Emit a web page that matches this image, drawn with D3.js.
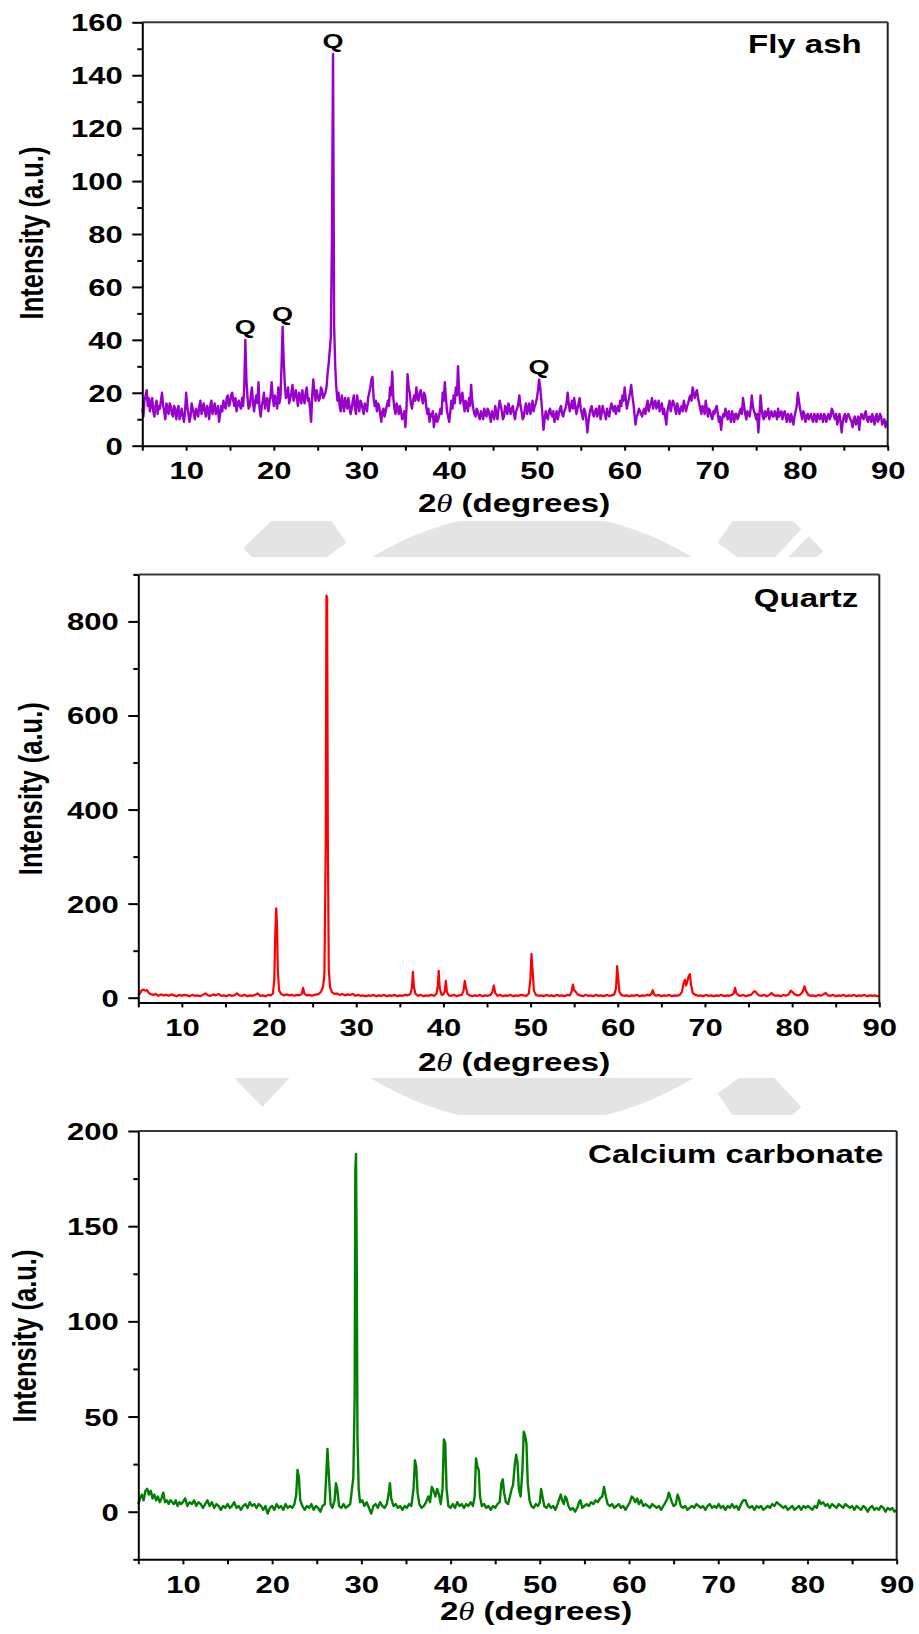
<!DOCTYPE html>
<html>
<head>
<meta charset="utf-8">
<script src="https://cdn.jsdelivr.net/npm/d3@7"></script>
<style>
  body { margin: 0; background: #fff; }
  svg text { font-family: 'Liberation Sans', Arial, sans-serif; font-weight: bold; fill: #000; }
</style>
</head>
<body>
<script>
// ---- data ----
// fly ash: intensities on a 0.125 degree step, starting at 5 degrees (one row per degree)
const flyStart = 5, flyStep = 0.125;
const flyIntensity = [
  14,11,17,19,21,15,18,13,  16,18,13,11,15,17,12,15,  14,17,20,15,13,10,16,14,  12,16,15,12,11,15,14,10,
  13,15,10,12,14,11,9,13,   20,15,12,9,11,16,14,12,   10,14,13,11,15,17,12,14,  16,13,11,15,14,10,15,17,
  12,14,16,12,13,15,9,12,   15,13,17,15,14,18,19,15,  16,19,20,17,15,18,13,16,  17,15,14,18,15,22,40,25,
  18,14,15,19,22,16,13,17,  19,16,24,14,11,15,17,20,  14,17,18,13,16,19,24,18,  15,19,17,14,22,16,18,30,
  45,32,23,18,19,22,16,18,  20,23,17,19,21,18,15,20,  19,16,21,18,16,20,22,17,  18,14,9,19,25,20,17,21,
  19,17,18,22,21,18,19,20,  22,27,31,36,41,78,148,45, 30,22,17,20,15,13,19,16,  13,18,16,14,18,15,12,14,
  17,19,14,12,19,16,13,17,  16,14,12,16,15,13,18,20,  22,25,26,18,15,17,13,16,  15,12,9,13,14,11,13,15,
  17,15,22,19,28,18,14,12,  16,14,12,15,13,10,11,13,  7,14,27,22,20,16,14,17,   19,17,22,18,17,20,21,18,
  16,20,19,15,12,14,9,12,   11,13,7,10,12,9,10,12,    14,12,20,17,24,18,13,11,  9,13,17,14,19,16,22,19,
  30,21,16,18,20,16,13,17,  15,13,18,15,23,17,14,12,  11,14,13,11,10,13,12,10,  14,12,11,14,13,11,9,13,
  12,10,15,12,10,14,17,15,  13,10,11,15,14,12,16,14,  12,14,15,12,10,13,14,16,  19,15,13,10,11,14,16,12,
  14,16,12,14,17,13,15,16,  18,21,25,22,17,12,6,10,   13,11,10,13,14,12,11,13,  9,11,13,10,12,14,15,12,
  11,13,14,16,20,16,13,15,  17,14,18,15,12,14,16,18,  14,12,10,14,13,10,5,9,    12,14,15,12,11,13,14,11,
  13,15,10,12,15,13,12,10,  14,12,11,14,16,14,13,15,  12,14,15,13,17,15,19,17,  22,18,14,16,18,20,23,19,
  16,12,8,11,12,14,13,12,   11,13,14,12,15,17,13,15,  16,18,14,16,17,14,15,17,  13,15,16,12,14,11,8,13,
  15,17,13,15,17,16,14,12,  16,14,12,14,15,13,17,15,  13,15,16,18,19,17,22,20,  18,20,21,18,16,14,12,15,
  14,12,17,14,11,14,13,11,  10,13,12,14,15,12,9,11,   6,10,12,11,14,12,10,13,   11,9,13,11,9,12,12,10,
  11,13,14,12,18,15,12,10,  13,12,11,14,19,15,13,12,  10,12,5,11,19,14,11,10,   13,11,12,14,10,12,13,11,
  11,13,12,10,14,11,12,13,  10,12,13,11,9,12,11,9,    12,10,8,11,13,15,20,17,   14,12,10,13,12,9,11,12,
  10,11,12,10,9,12,11,9,    12,11,10,12,11,9,12,11,   9,11,12,10,11,14,13,11,   10,12,8,10,12,9,5,9,
  11,12,9,11,12,11,10,9,    7,10,11,8,9,11,6,10,      12,11,10,12,13,10,9,11,   11,9,12,10,8,11,12,9,
  10,12,11,8,9,10,7,9,
  9
];
const flyPeaks = [[16.75, 40], [21, 45], [26.75, 148], [50.25, 25]];

// quartz: [2theta, intensity]
const quartzData = [
  [5.0,7],[5.2,9],[5.4,16],[5.6,17],[5.8,15],[6.0,16],[6.2,10],[6.4,8],[6.7,6],[7.0,8],[7.3,4],[7.6,7],[7.9,5],
  [8.2,6],[8.5,4],[8.8,7],[9.1,5],[9.4,3],[9.7,6],[10.0,4],[10.3,6],[10.6,5],[10.9,3],[11.2,6],[11.5,4],[11.8,5],
  [12.1,3],[12.4,6],[12.7,9],[13.0,5],[13.3,4],[13.6,7],[13.9,5],[14.2,8],[14.5,4],[14.8,5],[15.1,3],[15.4,6],
  [15.7,4],[16.0,5],[16.3,9],[16.6,5],[16.9,4],[17.2,6],[17.5,3],[17.8,5],[18.1,4],[18.4,6],[18.7,9],[19.0,4],
  [19.3,5],[19.6,3],[19.9,6],[20.2,5],[20.45,9],[20.6,40],[20.72,140],[20.82,190],[20.92,150],[21.0,60],[21.15,15],
  [21.4,8],[21.7,5],[22.0,7],[22.3,5],[22.6,6],[22.9,4],[23.2,6],[23.5,5],[23.75,8],[23.9,21],[24.05,9],[24.3,5],
  [24.6,6],[24.9,4],[25.2,6],[25.5,7],[25.8,9],[26.0,14],[26.2,24],[26.35,50],[26.5,330],[26.58,855],[26.66,850],
  [26.74,340],[26.85,60],[27.0,22],[27.2,12],[27.5,8],[27.8,9],[28.1,6],[28.4,8],[28.7,5],[29.0,7],[29.3,6],
  [29.6,8],[29.9,4],[30.2,6],[30.5,4],[30.8,5],[31.1,3],[31.4,5],[31.7,4],[32.0,6],[32.3,3],[32.6,5],[32.9,4],
  [33.2,6],[33.5,3],[33.8,5],[34.1,4],[34.4,6],[34.7,3],[35.0,5],[35.3,4],[35.6,6],[35.9,5],[36.2,8],[36.38,20],
  [36.5,55],[36.62,22],[36.8,8],[37.1,4],[37.4,6],[37.7,3],[38.0,5],[38.3,4],[38.6,6],[38.9,4],[39.2,8],[39.35,25],
  [39.46,57],[39.58,20],[39.8,6],[40.0,7],[40.15,14],[40.28,36],[40.4,12],[40.6,5],[40.9,4],[41.2,6],[41.5,3],
  [41.8,5],[42.1,6],[42.3,14],[42.45,36],[42.58,22],[42.75,8],[43.0,5],[43.3,3],[43.6,5],[43.9,4],[44.2,6],
  [44.5,3],[44.8,5],[45.1,4],[45.4,6],[45.62,12],[45.78,26],[45.95,10],[46.2,4],[46.5,6],[46.8,3],[47.1,5],
  [47.4,4],[47.7,6],[48.0,3],[48.3,5],[48.6,4],[48.9,6],[49.2,5],[49.5,4],[49.8,9],[49.98,40],[50.1,93],
  [50.22,60],[50.38,15],[50.6,6],[50.9,4],[51.2,5],[51.5,3],[51.8,6],[52.1,4],[52.4,5],[52.7,3],[53.0,6],
  [53.3,4],[53.6,5],[53.9,3],[54.2,6],[54.5,5],[54.7,12],[54.85,28],[55.0,16],[55.2,12],[55.4,7],[55.7,5],
  [56.0,3],[56.3,6],[56.6,4],[56.9,5],[57.2,3],[57.5,6],[57.8,4],[58.1,5],[58.4,3],[58.7,6],[59.0,4],[59.3,5],
  [59.6,7],[59.8,20],[59.93,67],[60.05,40],[60.2,12],[60.4,6],[60.7,4],[61.0,5],[61.3,3],[61.6,5],[61.9,4],
  [62.2,6],[62.5,3],[62.8,5],[63.1,4],[63.4,6],[63.7,5],[63.9,10],[64.02,16],[64.15,7],[64.4,4],[64.7,6],
  [65.0,3],[65.3,5],[65.6,4],[65.9,6],[66.2,3],[66.5,5],[66.8,4],[67.1,6],[67.35,12],[67.55,30],[67.7,38],
  [67.85,26],[68.0,36],[68.15,47],[68.28,50],[68.4,28],[68.6,10],[68.9,6],[69.2,4],[69.5,5],[69.8,3],[70.1,6],
  [70.4,4],[70.7,5],[71.0,3],[71.3,5],[71.6,4],[71.9,6],[72.2,3],[72.5,5],[72.8,4],[73.1,6],[73.3,9],[73.45,21],
  [73.6,10],[73.85,5],[74.1,4],[74.4,6],[74.7,3],[75.0,5],[75.3,6],[75.55,12],[75.75,14],[75.95,9],[76.2,5],
  [76.5,4],[76.8,6],[77.1,3],[77.4,6],[77.65,10],[77.85,6],[78.1,4],[78.4,5],[78.7,3],[79.0,6],[79.3,4],
  [79.6,7],[79.85,15],[80.05,12],[80.3,7],[80.6,5],[80.9,6],[81.2,12],[81.42,24],[81.6,14],[81.85,6],[82.1,4],
  [82.4,5],[82.7,3],[83.0,6],[83.3,4],[83.6,7],[83.85,10],[84.1,5],[84.4,4],[84.7,6],[85.0,3],[85.3,5],
  [85.6,4],[85.9,6],[86.2,3],[86.5,5],[86.8,4],[87.1,6],[87.4,3],[87.7,5],[88.0,4],[88.3,6],[88.6,3],
  [88.9,5],[89.2,4],[89.5,5],[89.8,3],[90.0,4]
];

// calcium carbonate: [2theta, intensity]
const calciteData = [
  [5.0,4],[5.2,7],[5.4,9],[5.6,6],[5.8,11],[6.0,12],[6.2,9],[6.4,11],[6.6,7],[6.8,9],[7.0,6],[7.2,8],[7.4,5],
  [7.6,7],[7.8,10],[8.0,5],[8.2,6],[8.4,4],[8.6,6],[8.8,5],[9.0,4],[9.2,6],[9.4,3],[9.6,5],[9.8,4],[10.0,5],
  [10.25,7],[10.5,3],[10.75,5],[11.0,4],[11.25,6],[11.5,3],[11.75,5],[12.0,4],[12.25,2],[12.5,4],[12.75,6],
  [13.0,3],[13.25,5],[13.5,2],[13.75,4],[14.0,3],[14.25,1],[14.5,3],[14.75,2],[15.0,4],[15.25,2],[15.5,3],
  [15.75,5],[16.0,2],[16.25,3],[16.5,1],[16.75,3],[17.0,4],[17.25,2],[17.5,5],[17.75,3],[18.0,4],[18.25,2],
  [18.5,4],[18.75,3],[19.0,1],[19.25,3],[19.5,-1],[19.75,2],[20.0,3],[20.25,1],[20.5,4],[20.75,2],[21.0,3],
  [21.25,1],[21.5,4],[21.75,2],[22.0,3],[22.25,2],[22.5,4],[22.7,9],[22.85,22],[23.0,18],[23.15,6],[23.4,3],
  [23.65,1],[23.9,3],[24.15,2],[24.4,4],[24.65,1],[24.9,3],[25.15,2],[25.4,0],[25.65,3],[25.9,4],[26.05,18],
  [26.2,33],[26.35,20],[26.55,4],[26.75,2],[27.0,6],[27.15,15],[27.3,12],[27.5,3],[27.75,2],[28.0,4],[28.25,2],
  [28.5,3],[28.75,4],[28.95,12],[29.1,18],[29.25,60],[29.32,179],[29.4,188],[29.48,134],[29.56,40],[29.7,12],
  [29.85,5],[30.1,6],[30.35,3],[30.6,5],[30.85,2],[31.1,-1],[31.35,3],[31.6,4],[31.85,2],[32.1,5],[32.35,3],
  [32.6,2],[32.85,4],[33.05,9],[33.2,15],[33.35,7],[33.6,3],[33.85,4],[34.1,2],[34.35,3],[34.6,1],[34.85,3],
  [35.1,2],[35.35,4],[35.6,3],[35.85,12],[36.0,27],[36.15,24],[36.3,10],[36.5,4],[36.75,2],[37.0,3],[37.25,5],
  [37.5,8],[37.7,5],[37.9,13],[38.1,11],[38.3,8],[38.5,12],[38.7,9],[38.9,4],[39.1,12],[39.25,38],[39.4,36],
  [39.55,12],[39.75,3],[40.0,2],[40.25,4],[40.5,2],[40.75,5],[41.0,3],[41.25,4],[41.5,2],[41.75,4],[42.0,3],
  [42.25,5],[42.5,3],[42.7,8],[42.85,28],[43.0,24],[43.15,22],[43.3,8],[43.5,3],[43.75,4],[44.0,2],[44.25,3],
  [44.5,1],[44.75,3],[45.0,2],[45.25,4],[45.5,5],[45.7,15],[45.85,17],[46.0,10],[46.2,5],[46.45,4],[46.65,8],
  [46.85,12],[47.0,14],[47.2,25],[47.35,30],[47.5,26],[47.65,12],[47.85,8],[48.05,22],[48.2,42],[48.35,40],
  [48.5,36],[48.65,15],[48.85,6],[49.05,3],[49.3,2],[49.55,4],[49.8,3],[50.0,5],[50.15,12],[50.3,8],[50.5,3],
  [50.75,2],[51.0,4],[51.25,2],[51.5,3],[51.75,1],[52.0,4],[52.2,7],[52.35,9],[52.5,6],[52.7,4],[52.85,8],
  [53.0,7],[53.2,3],[53.45,1],[53.7,2],[53.95,0],[54.2,2],[54.4,5],[54.55,6],[54.75,2],[55.0,3],[55.25,4],
  [55.5,3],[55.75,5],[56.0,4],[56.25,6],[56.5,5],[56.75,7],[57.0,8],[57.2,13],[57.4,8],[57.6,4],[57.85,3],
  [58.1,4],[58.35,2],[58.6,3],[58.85,4],[59.1,2],[59.35,3],[59.6,1],[59.85,3],[60.1,5],[60.3,8],[60.5,7],
  [60.7,5],[60.9,7],[61.1,4],[61.35,6],[61.6,3],[61.85,4],[62.1,3],[62.35,2],[62.6,4],[62.85,3],[63.1,2],
  [63.35,3],[63.6,1],[63.85,3],[64.1,5],[64.3,7],[64.45,10],[64.6,8],[64.8,5],[65.0,3],[65.25,4],[65.45,9],
  [65.6,7],[65.8,3],[66.05,2],[66.3,3],[66.55,1],[66.8,2],[67.05,3],[67.3,2],[67.55,4],[67.8,3],[68.05,2],
  [68.3,3],[68.55,1],[68.8,3],[69.05,4],[69.3,2],[69.55,3],[69.8,2],[70.05,4],[70.3,2],[70.55,3],[70.8,1],
  [71.05,3],[71.3,2],[71.55,4],[71.8,2],[72.05,3],[72.3,1],[72.55,4],[72.8,6],[73.05,6],[73.3,3],[73.55,2],
  [73.8,3],[74.05,1],[74.3,3],[74.55,2],[74.8,3],[75.05,1],[75.3,2],[75.55,3],[75.8,2],[76.05,4],[76.3,3],
  [76.55,5],[76.8,4],[77.05,3],[77.3,2],[77.55,3],[77.8,1],[78.05,2],[78.3,3],[78.55,1],[78.8,2],[79.05,3],
  [79.3,1],[79.55,3],[79.8,2],[80.05,3],[80.3,2],[80.55,1],[80.8,3],[81.05,2],[81.3,6],[81.5,4],[81.75,5],
  [82.0,3],[82.25,4],[82.5,2],[82.75,4],[83.0,3],[83.25,2],[83.5,4],[83.75,3],[84.0,2],[84.25,4],[84.5,3],
  [84.75,2],[85.0,3],[85.25,1],[85.5,3],[85.75,2],[86.0,1],[86.25,3],[86.5,2],[86.75,0],[87.0,2],[87.25,3],
  [87.5,1],[87.75,2],[88.0,1],[88.25,3],[88.5,2],[88.75,0],[89.0,2],[89.25,1],[89.5,2],[89.75,0],[90.0,1]
];

// tick values
const xMajorTicks = [10, 20, 30, 40, 50, 60, 70, 80, 90];
const xMinorTicks = [5, 15, 25, 35, 45, 55, 65, 75, 85];
const flyYMajor = [0, 20, 40, 60, 80, 100, 120, 140, 160];
const flyYMinor = [10, 30, 50, 70, 90, 110, 130, 150];
const quartzYMajor = [0, 200, 400, 600, 800];
const quartzYMinor = [100, 300, 500, 700, 900];
const calciteYMajor = [0, 50, 100, 150, 200];
const calciteYMinor = [-25, 25, 75, 125, 175];

// the source figure is stretched sideways, so is all its text
const STRETCH = 1.32;

let svg = d3.select('body')
            .append('svg')
            .attr('width', 919)
            .attr('height', 1634)
            .style('background', '#fff');

// faint watermark that shows between the panels
const wm = svg.append('g').attr('fill', '#e4e4e4');
wm.append('circle').attr('cx', 532).attr('cy', 818).attr('r', 306);
[[-47, -34], [34, 43], [44.5, 47.5], [137, 146], [223, 229.5]].forEach(a => {
  wm.append('path')
    .attr('transform', 'translate(532,818)')
    .attr('d', d3.arc()({innerRadius: 332, outerRadius: 395,
                         startAngle: a[0] * Math.PI / 180, endAngle: a[1] * Math.PI / 180}));
});
// white backgrounds of the three panel images
[[0, 0, 919, 521], [0, 557, 919, 521], [0, 1115, 919, 519]].forEach(r => {
  svg.append('rect').attr('x', r[0]).attr('y', r[1]).attr('width', r[2]).attr('height', r[3]).attr('fill', '#fff');
});

function drawPanel(p) {
  const x = d3.scaleLinear().domain([5, 90]).range([p.left, p.right]);
  const y = d3.scaleLinear().domain(p.yDomain).range([p.bottom, p.top]);

  // pattern line
  const line = d3.line()
                 .x(d => x(d[0]))
                 .y(d => y(d[1]));

  svg.append('path')
     .datum(p.data)
     .attr('d', line)
     .attr('fill', 'none')
     .attr('stroke', p.color)
     .attr('stroke-width', p.lineWidth)
     .attr('stroke-linejoin', 'round');

  // top and right frame
  svg.append('line')
     .attr('x1', p.left).attr('x2', p.right)
     .attr('y1', p.top).attr('y2', p.top)
     .attr('stroke', '#3a3a3a').attr('stroke-width', 2);
  svg.append('line')
     .attr('x1', p.right).attr('x2', p.right)
     .attr('y1', p.top).attr('y2', p.bottom)
     .attr('stroke', '#222').attr('stroke-width', 2);

  // x axis, minor then major ticks
  svg.append('g')
     .attr('transform', `translate(0,${p.bottom})`)
     .call(d3.axisBottom(x).tickValues(xMinorTicks).tickSize(5).tickFormat(''))
     .call(g => g.select('.domain').remove())
     .selectAll('line').attr('stroke-width', 2);

  let gx = svg.append('g')
              .attr('transform', `translate(0,${p.bottom})`)
              .call(d3.axisBottom(x).tickValues(xMajorTicks).tickSize(5).tickSizeOuter(0));
  gx.select('.domain').attr('stroke-width', 2);
  gx.selectAll('line').attr('stroke-width', 2);
  gx.selectAll('text')
    .attr('y', 0)
    .attr('dy', null)
    .style('font-size', '23.5px')
    .attr('transform', `translate(0,33.5) scale(${STRETCH},1)`);

  // y axis, minor then major ticks
  svg.append('g')
     .attr('transform', `translate(${p.left},0)`)
     .call(d3.axisLeft(y).tickValues(p.yMinor).tickSize(5).tickFormat(''))
     .call(g => g.select('.domain').remove())
     .selectAll('line').attr('stroke-width', 2);

  let gy = svg.append('g')
              .attr('transform', `translate(${p.left},0)`)
              .call(d3.axisLeft(y).tickValues(p.yMajor).tickSize(10).tickSizeOuter(0));
  gy.select('.domain').attr('stroke-width', 2);
  gy.selectAll('line').attr('stroke-width', 2);
  gy.selectAll('text')
    .attr('x', 0)
    .attr('dy', '0.36em')
    .style('font-size', '23.5px')
    .attr('transform', `translate(-19.5,0) scale(${STRETCH},1)`);

  // x axis label
  let xl = svg.append('text')
              .attr('text-anchor', 'middle')
              .attr('transform', `translate(${p.xLabelX},${p.xLabelY}) scale(${STRETCH},1)`)
              .style('font-size', '25px');
  xl.append('tspan').text('2');
  xl.append('tspan')
    .text('θ')
    .style('font-family', "'Liberation Serif', 'Times New Roman', serif")
    .style('font-style', 'italic')
    .style('font-weight', 'normal');
  xl.append('tspan').text(' (degrees)');

  // y axis label
  svg.append('text')
     .attr('text-anchor', 'middle')
     .attr('dy', '0.36em')
     .attr('transform', `translate(${p.yLabelX},${p.yLabelY}) scale(${STRETCH},1) rotate(-90)`)
     .style('font-size', '25.5px')
     .text('Intensity (a.u.)');

  // sample name
  svg.append('text')
     .attr('text-anchor', 'end')
     .attr('transform', `translate(${p.titleX},${p.titleY}) scale(${STRETCH},1)`)
     .style('font-size', '25px')
     .text(p.title);

  // peak markers
  (p.peaks || []).forEach(pk => {
    svg.append('text')
       .attr('text-anchor', 'middle')
       .attr('transform', `translate(${x(pk[0])},${y(pk[1]) - 6}) scale(${STRETCH},1)`)
       .style('font-size', '20.5px')
       .text('Q');
  });
}

drawPanel({
  data: flyIntensity.map((v, i) => [flyStart + i * flyStep, v]),
  peaks: flyPeaks,
  color: '#9900cc', lineWidth: 2.4,
  left: 142.3, right: 887.7, top: 22.3, bottom: 445.7,
  yDomain: [0, 160], yMajor: flyYMajor, yMinor: flyYMinor,
  title: 'Fly ash', titleX: 861.7, titleY: 53,
  xLabelX: 514, xLabelY: 512,
  yLabelX: 30.8, yLabelY: 233
});

drawPanel({
  data: quartzData,
  color: '#ff0000', lineWidth: 2.2,
  left: 138.3, right: 879.3, top: 574.4, bottom: 1002.4,
  yDomain: [-10, 900], yMajor: quartzYMajor, yMinor: quartzYMinor,
  title: 'Quartz', titleX: 858.3, titleY: 606.7,
  xLabelX: 514, xLabelY: 1071,
  yLabelX: 30, yLabelY: 788.7
});

drawPanel({
  data: calciteData,
  color: '#008000', lineWidth: 2.4,
  left: 138.3, right: 896.7, top: 1131, bottom: 1559.3,
  yDomain: [-25, 200], yMajor: calciteYMajor, yMinor: calciteYMinor,
  title: 'Calcium carbonate', titleX: 883.3, titleY: 1163.3,
  xLabelX: 536, xLabelY: 1620,
  yLabelX: 23.5, yLabelY: 1336
});
</script>
</body>
</html>
